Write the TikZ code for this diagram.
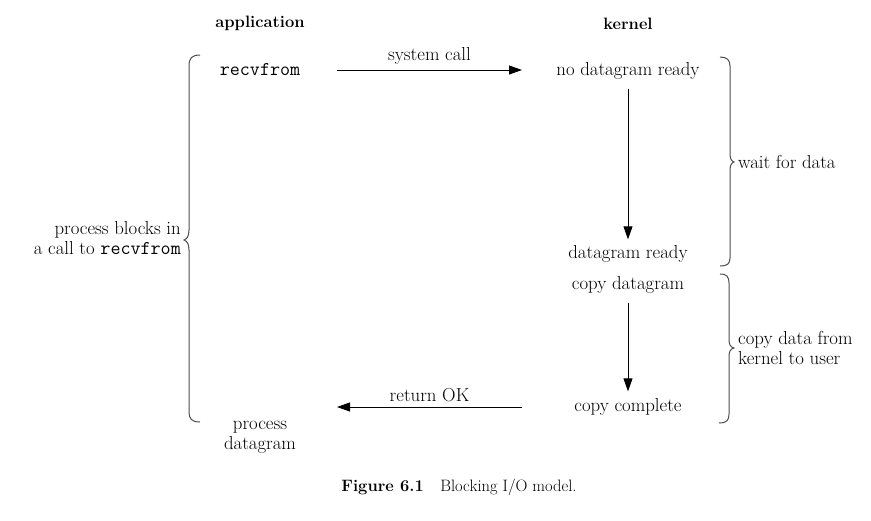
\documentclass[tikz,border=0pt]{standalone}
\usepackage{fontspec}
\usetikzlibrary{arrows.meta}
\begin{document}
\begin{tikzpicture}[x=1pt,y=-1pt,
  lbl/.style={font=\fontsize{18.8}{20}\selectfont, inner sep=0pt},
  hdr/.style={font=\fontsize{16.5}{20}\selectfont\bfseries, inner sep=0pt},
  ttl/.style={font=\fontsize{19.5}{20}\selectfont\ttfamily, inner sep=0pt},
  arr/.style={line width=0.9pt, -{Triangle[length=13pt,width=9pt]}},
  brc/.style={draw=black!70, line width=1pt}]
\useasboundingbox (0,0) rectangle (871,520);
% headers
\node[hdr] (app) at (260,23) {application};
\node[hdr] (ker) at (628,24) {kernel};
% application side
\node[ttl] (recv) at (260,70) {recvfrom};
\node[lbl, align=center] (proc) at (260,437) {process\\datagram};
\node[lbl, align=right, anchor=east] (blk) at (181,238) {process blocks in\\a call to {\fontsize{19.5}{20}\selectfont\ttfamily recvfrom}};
% kernel side
\node[lbl] (nodg) at (628,71) {no datagram ready};
\node[lbl] (dgr) at (628,254) {datagram ready};
\node[lbl] (cpd) at (628,285) {copy datagram};
\node[lbl] (cpc) at (628,407) {copy complete};
% brace labels
\node[lbl, anchor=west] (wait) at (738,162) {wait for data};
\node[lbl, anchor=west, align=left] (copy) at (738,348) {copy data from\\kernel to user};
% caption
\node[font=\fontsize{16.5}{20}\selectfont, inner sep=0pt] (cap) at (459,487) {\textbf{Figure 6.1}\quad Blocking I/O model.};
% connector end points
\coordinate (scs) at (337,70);
\coordinate (sce) at (522,70);
\coordinate (ros) at (522,407);
\coordinate (roe) at (337,407);
% arrows
\draw[arr] (scs) -- (sce) node[lbl, midway, above=5pt] (sclbl) {system call};
\draw[arr] (ros) -- (roe) node[lbl, midway, above=5pt] (rolbl) {return OK};
\draw[arr, shorten <=9pt, shorten >=6pt] (nodg) -- (dgr);
\draw[arr, shorten <=9pt, shorten >=7pt] (cpd) -- (cpc);
% braces
\draw[brc] (200,55) .. controls (192,55) and (189,58) .. (189,66) -- (189,230)
  .. controls (189,236) and (187,239) .. (184,240)
  .. controls (187,241) and (189,244) .. (189,250) -- (189,412)
  .. controls (189,419) and (192,422) .. (200,422);
\draw[brc] (720,57) .. controls (727,57) and (730,60) .. (730,66) -- (730,153)
  .. controls (730,158) and (731,161) .. (734,162)
  .. controls (731,163) and (730,166) .. (730,171) -- (730,258)
  .. controls (730,264) and (727,266) .. (720,266);
\draw[brc] (720,274) .. controls (727,274) and (729,277) .. (729,283) -- (729,339)
  .. controls (729,344) and (730,347) .. (734,348)
  .. controls (730,349) and (729,352) .. (729,357) -- (729,414)
  .. controls (729,420) and (727,423) .. (719,423);
\end{tikzpicture}
\end{document}
